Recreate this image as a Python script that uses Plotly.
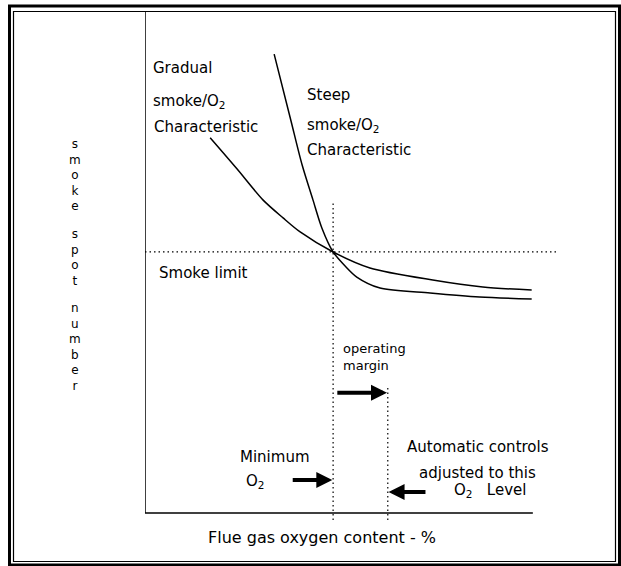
import plotly.graph_objects as go

# ---------------- data (x: flue gas O2 %, y: smoke spot number; arbitrary units)
steep_x = [3.33, 3.76, 4.05, 4.33, 4.56, 4.85, 5.16, 5.46, 6.06, 7.35, 8.63, 9.97]
steep_y = [9.16, 7.84, 6.95, 6.25, 5.69, 5.21, 4.93, 4.71, 4.49, 4.39, 4.31, 4.27]
gradual_x = [1.68, 2.37, 3.04, 3.56, 4.00, 4.85, 5.80, 7.42, 8.71, 9.97]
gradual_y = [7.49, 6.87, 6.25, 5.89, 5.61, 5.21, 4.89, 4.65, 4.51, 4.45]
smoke_limit = 5.21      # smoke spot number limit
min_o2 = 4.85           # minimum O2
set_o2 = 6.26           # O2 level the automatic controls are adjusted to
x_max = 10.0
y_max = 10.0

X_RANGE = [0, 10.7]
Y_RANGE = [-0.24, 10.0]

FONT = "DejaVu Sans"
BLACK = "black"

# figure geometry (pixels)
W, H = 621, 566
ML, MR, MT, MB = 145, 61, 12, 41
PW, PH = W - ML - MR, H - MT - MB


def pxp(px):
    return (px - ML) / PW


def pyp(py):
    return (H - MB - py) / PH


fig = go.Figure()

# curves
fig.add_trace(go.Scatter(x=steep_x, y=steep_y, mode="lines",
                         line=dict(color=BLACK, width=1.5, shape="spline", smoothing=0.8),
                         hoverinfo="skip"))
fig.add_trace(go.Scatter(x=gradual_x, y=gradual_y, mode="lines",
                         line=dict(color=BLACK, width=1.5, shape="spline", smoothing=0.8),
                         hoverinfo="skip"))

dot = dict(color=BLACK, width=1.2, dash="1.5px,3px")
# smoke limit line (extends past x axis end)
fig.add_trace(go.Scatter(x=[0, 10.64], y=[smoke_limit, smoke_limit], mode="lines",
                         line=dot, hoverinfo="skip"))
# minimum O2 line
fig.add_trace(go.Scatter(x=[min_o2, min_o2], y=[-0.14, 6.21], mode="lines",
                         line=dot, hoverinfo="skip"))
# set O2 line
fig.add_trace(go.Scatter(x=[set_o2, set_o2], y=[-0.14, 2.51], mode="lines",
                         line=dot, hoverinfo="skip"))

shapes = []
# axes
shapes.append(dict(type="line", xref="x", yref="y", x0=0, y0=0, x1=0, y1=y_max,
                   line=dict(color=BLACK, width=1.5)))
shapes.append(dict(type="line", xref="x", yref="y", x0=0, y0=0, x1=x_max, y1=0,
                   line=dict(color=BLACK, width=1.5)))
# double frame
shapes.append(dict(type="rect", xref="paper", yref="paper",
                   x0=pxp(9.5), x1=pxp(619.5), y0=pyp(565), y1=pyp(6),
                   line=dict(color=BLACK, width=3)))
shapes.append(dict(type="rect", xref="paper", yref="paper",
                   x0=pxp(13.5), x1=pxp(615.5), y0=pyp(561.5), y1=pyp(11.5),
                   line=dict(color=BLACK, width=1.2)))

ann = []


def label(text, x, y, size=15, xanchor="left", xref="x", yref="y", align="left"):
    ann.append(dict(text=text, x=x, y=y, xref=xref, yref=yref, showarrow=False,
                    xanchor=xanchor, yanchor="middle", align=align,
                    font=dict(family=FONT, size=size, color=BLACK)))


label("Gradual", 0.15, 8.88)
label("smoke/O<sub>2</sub>", 0.15, 8.22)
label("Characteristic", 0.17, 7.70)
label("Steep", 4.12, 8.34)
label("smoke/O<sub>2</sub>", 4.12, 7.74)
label("Characteristic", 4.12, 7.25)
label("Smoke limit", 0.32, 4.79)
label("operating<br>margin", 5.05, 3.12, size=13)
label("Minimum", 3.34, 1.12, xanchor="center")
label("O<sub>2</sub>", 2.84, 0.62, xanchor="center")
label("Automatic controls", 8.58, 1.32, xanchor="center")
label("adjusted to this", 8.57, 0.80, xanchor="center")
label("O<sub>2</sub>   Level", 8.89, 0.44, xanchor="center")
label("Flue gas oxygen content - %", pxp(322), pyp(537), size=16, xanchor="center",
      xref="paper", yref="paper")
# vertical (stacked letters) y-axis title, one block per word
label("s<br>m<br>o<br>k<br>e", pxp(75), pyp(175), size=12, xanchor="center",
      xref="paper", yref="paper", align="center")
label("s<br>p<br>o<br>t", pxp(75), pyp(257), size=12, xanchor="center",
      xref="paper", yref="paper", align="center")
label("n<br>u<br>m<br>b<br>e<br>r", pxp(75), pyp(347), size=12, xanchor="center",
      xref="paper", yref="paper", align="center")


def arrow(x_head, x_tail, y):
    ann.append(dict(text="", x=x_head, y=y, ax=x_tail, ay=y, xref="x", yref="y",
                    axref="x", ayref="y", showarrow=True, arrowhead=2,
                    arrowsize=0.8, arrowwidth=4, arrowcolor=BLACK, standoff=0))


arrow(set_o2 - 0.02, min_o2 + 0.07, 2.40)     # operating margin
arrow(min_o2 - 0.02, min_o2 - 1.08, 0.66)     # minimum O2
arrow(set_o2 + 0.02, set_o2 + 1.01, 0.42)     # automatic controls level

fig.update_layout(
    width=W, height=H,
    margin=dict(l=ML, r=MR, t=MT, b=MB, pad=0),
    paper_bgcolor="white", plot_bgcolor="white",
    showlegend=False,
    xaxis=dict(range=X_RANGE, visible=False, fixedrange=True),
    yaxis=dict(range=Y_RANGE, visible=False, fixedrange=True),
    shapes=shapes,
    annotations=ann,
)

fig.write_html(
    "out.html",
    config={"displayModeBar": False},
    post_script="document.body.style.margin='0px';document.body.style.overflow='hidden';",
)
